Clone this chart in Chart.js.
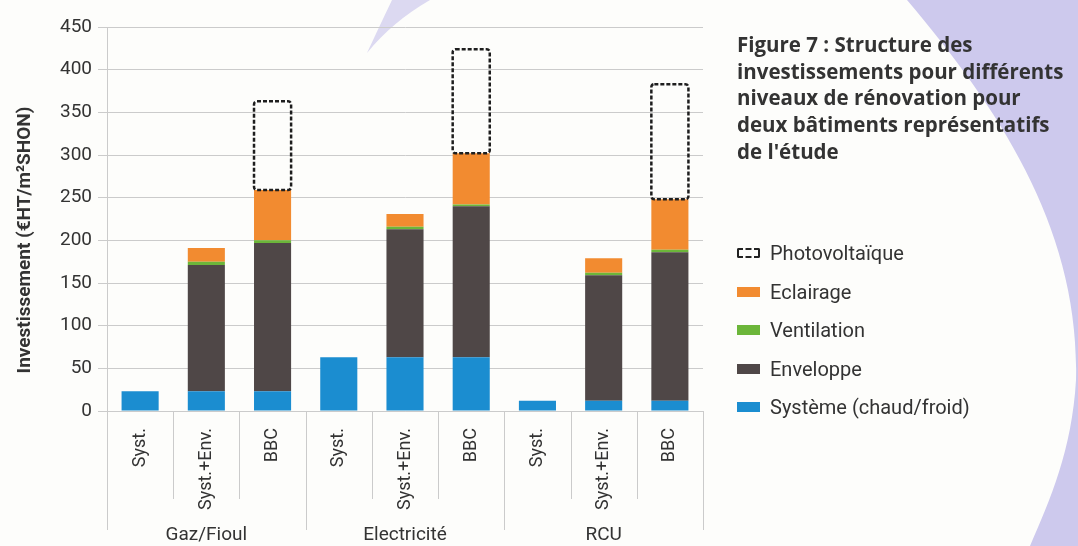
<!DOCTYPE html>
<html lang="fr">
<head>
<meta charset="utf-8">
<title>Structure des investissements</title>
<script src="https://cdn.jsdelivr.net/npm/chart.js@4.4.1/dist/chart.umd.min.js"></script>
<style>
  html, body { margin: 0; padding: 0; background: #fdfdfb; }
  #wrap { position: relative; width: 1078px; height: 546px; overflow: hidden; }
  #c { position: absolute; left: 0; top: 0; }
  #caption {
    position: absolute; left: 737px; top: 31px;
    font-family: "Open Sans", "Noto Sans", sans-serif; font-weight: 700;
    font-size: 20.5px; line-height: 26.7px; color: #333; white-space: nowrap;
  }
  #legend {
    position: absolute; left: 737px; top: 234px;
    font-family: Roboto, "Liberation Sans", sans-serif;
    font-size: 20px; color: #333;
  }
  .item { display: flex; align-items: center; height: 38.5px; white-space: nowrap; }
  .swatch { width: 23px; height: 10px; margin-right: 10px; box-sizing: border-box; }
  .swatch.dashed { border: 2px dashed #222; border-radius: 2px; background: none; }
</style>
</head>
<body>
<div id="wrap">
  <canvas id="c" width="1078" height="546"></canvas>
  <div id="caption">Figure 7 : Structure des<br>investissements pour différents<br>niveaux de rénovation pour<br>deux bâtiments représentatifs<br>de l'étude</div>
  <div id="legend"></div>
</div>
<script>
// Investment per renovation level (€HT/m² SHON), one entry per bar
const groupLabels = ['Gaz/Fioul', 'Electricité', 'RCU'];
const categories = ['Syst.', 'Syst.+Env.', 'BBC', 'Syst.', 'Syst.+Env.', 'BBC', 'Syst.', 'Syst.+Env.', 'BBC'];
const systeme        = [23, 23, 23, 63, 63, 63, 12, 12, 12];
const enveloppe      = [0, 148, 174, 0, 150, 177, 0, 147, 174];
const ventilation    = [0, 4, 3, 0, 3, 2, 0, 3, 3];
const eclairage      = [0, 16, 59, 0, 15, 60, 0, 17, 59];
const photovoltaique = [0, 0, 104, 0, 0, 122, 0, 0, 135];
const yTicks = [0, 50, 100, 150, 200, 250, 300, 350, 400, 450];

const FONT = 'Roboto, "Liberation Sans", sans-serif';
const TEXT = '#333333';
const GRID = '#cbcbcb';
const PV_INDEX = 4;

// Lavender page decoration behind the figure
const backdrop = {
  id: 'backdrop',
  beforeDraw(chart) {
    const ctx = chart.ctx;
    ctx.save();
    ctx.fillStyle = '#fdfdfb';
    ctx.fillRect(0, 0, chart.width, chart.height);
    ctx.fillStyle = '#cdc9ed';
    ctx.beginPath();
    ctx.moveTo(907, 0);
    ctx.bezierCurveTo(1000, 110, 1080, 230, 1076, 380);
    ctx.bezierCurveTo(1072, 450, 1050, 500, 1030, 546);
    ctx.lineTo(1078, 546);
    ctx.lineTo(1078, 0);
    ctx.closePath();
    ctx.fill();
    ctx.globalAlpha = 0.7;
    ctx.beginPath();
    ctx.moveTo(392, 0);
    ctx.lineTo(430, 0);
    ctx.quadraticCurveTo(392, 22, 367, 53);
    ctx.quadraticCurveTo(380, 25, 392, 0);
    ctx.closePath();
    ctx.fill();
    ctx.restore();
  }
};

// Category dividers, group names, dashed photovoltaic boxes and y-axis title
const decorations = {
  id: 'decorations',
  afterDatasetsDraw(chart) {
    const ctx = chart.ctx;
    const x = chart.scales.x;
    const area = chart.chartArea;
    const step = x.getPixelForValue(1) - x.getPixelForValue(0);

    ctx.save();
    // dashed outline for the photovoltaic segment
    const meta = chart.getDatasetMeta(PV_INDEX);
    ctx.strokeStyle = '#1e1e1e';
    ctx.lineWidth = 2.5;
    ctx.setLineDash([4, 2]);
    meta.data.forEach((el, i) => {
      if (!photovoltaique[i]) return;
      const p = el.getProps(['x', 'y', 'base', 'width'], true);
      ctx.beginPath();
      ctx.roundRect(p.x - p.width / 2, p.y, p.width, p.base - p.y, 3);
      ctx.stroke();
    });
    ctx.setLineDash([]);

    // dividers below the axis
    ctx.strokeStyle = GRID;
    ctx.lineWidth = 1;
    for (let i = 0; i <= categories.length; i++) {
      const px = Math.round(x.getPixelForValue(0) - step / 2 + i * step) + 0.5;
      const end = i % 3 === 0 ? 530 : 499;
      ctx.beginPath();
      ctx.moveTo(px, area.bottom);
      ctx.lineTo(px, end);
      ctx.stroke();
    }

    // group names
    ctx.fillStyle = TEXT;
    ctx.font = '19px ' + FONT;
    ctx.textAlign = 'center';
    ctx.textBaseline = 'middle';
    groupLabels.forEach((g, k) => {
      const cx = (x.getPixelForValue(k * 3) + x.getPixelForValue(k * 3 + 2)) / 2;
      ctx.fillText(g, cx, 535);
    });

    // y-axis title
    ctx.font = 'bold 19px ' + FONT;
    ctx.translate(25, 240);
    ctx.rotate(-Math.PI / 2);
    ctx.fillText('Investissement (€HT/m²SHON)', 0, 0);
    ctx.restore();
  }
};

const chart = new Chart(document.getElementById('c'), {
  type: 'bar',
  data: {
    labels: categories,
    datasets: [
      { label: 'Système (chaud/froid)', data: systeme, backgroundColor: '#1b8dd0' },
      { label: 'Enveloppe', data: enveloppe, backgroundColor: '#4f4747' },
      { label: 'Ventilation', data: ventilation, backgroundColor: '#6cb63a' },
      { label: 'Eclairage', data: eclairage, backgroundColor: '#f28b30' },
      { label: 'Photovoltaïque', data: photovoltaique, backgroundColor: 'rgba(0,0,0,0)' }
    ]
  },
  options: {
    responsive: false,
    animation: false,
    layout: { padding: { top: 27, right: 375, left: 0, bottom: 0 } },
    datasets: { bar: { categoryPercentage: 1, barPercentage: 0.56, borderWidth: 0 } },
    plugins: { legend: { display: false }, tooltip: { enabled: false } },
    scales: {
      x: {
        stacked: true,
        grid: { display: false },
        border: { color: GRID },
        ticks: {
          autoSkip: false, minRotation: 90, maxRotation: 90, padding: 9,
          color: TEXT, font: { family: FONT, size: 18 }
        },
        afterFit(s) { s.height = 135; }
      },
      y: {
        stacked: true,
        min: yTicks[0], max: yTicks[yTicks.length - 1],
        afterBuildTicks(s) { s.ticks = yTicks.map(v => ({ value: v })); },
        grid: { color: GRID, tickLength: 9 },
        border: { color: GRID },
        ticks: { padding: 6, color: TEXT, font: { family: FONT, size: 19 } },
        afterFit(s) { s.width = 107; }
      }
    }
  },
  plugins: [backdrop, decorations]
});

// legend built from the chart datasets, top segment first
const legend = document.getElementById('legend');
chart.data.datasets.slice().reverse().forEach((ds) => {
  const item = document.createElement('div');
  item.className = 'item';
  const sw = document.createElement('span');
  sw.className = 'swatch';
  if (chart.data.datasets.indexOf(ds) === PV_INDEX) sw.classList.add('dashed');
  else sw.style.background = ds.backgroundColor;
  const label = document.createElement('span');
  label.textContent = ds.label;
  item.appendChild(sw);
  item.appendChild(label);
  legend.appendChild(item);
});
</script>
</body>
</html>
